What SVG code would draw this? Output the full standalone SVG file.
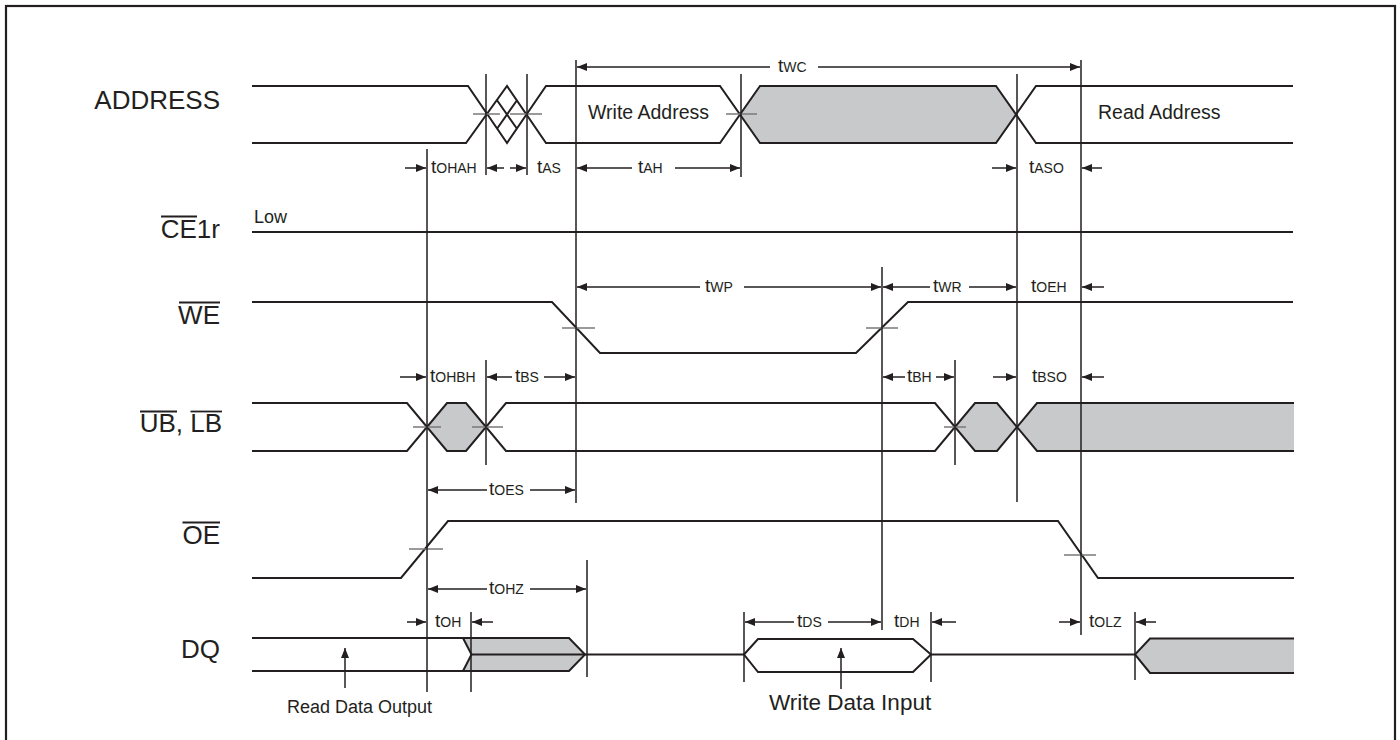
<svg xmlns="http://www.w3.org/2000/svg" width="1400" height="740" viewBox="0 0 1400 740">
<defs>
<marker id="ah" viewBox="0 0 10 8" refX="10" refY="4" markerWidth="10" markerHeight="8" markerUnits="userSpaceOnUse" orient="auto"><path d="M0,0 L10,4 L0,8 z" fill="#231f20"/></marker>
<style>
.w{fill:none;stroke:#231f20;stroke-width:2;stroke-linejoin:miter}
.g{fill:#c8c9cb;stroke:none}
.v{fill:none;stroke:#231f20;stroke-width:1.5}
.tk{fill:none;stroke:#7a7a7a;stroke-width:1.3}
.a{fill:none;stroke:#231f20;stroke-width:1.5;marker-end:url(#ah)}
.ol{stroke:#231f20;stroke-width:1.8}
text{font-family:"Liberation Sans",Arial,sans-serif;fill:#231f20}
.sig{font-size:26px;text-anchor:end}
.tl{font-size:19px}
.sub{font-size:14px}
.bus{font-size:19.5px}
</style>
</defs>
<rect x="0" y="0" width="1400" height="740" fill="#ffffff"/>
<rect x="6" y="6" width="1389" height="760" fill="none" stroke="#231f20" stroke-width="2.2"/>

<g id="labels">
<text class="sig" x="220" y="109">ADDRESS</text>
<text class="sig" x="220" y="238">CE1r</text>
<line class="ol" x1="161" y1="216.5" x2="197" y2="216.5"/>
<text class="sig" x="220" y="324">WE</text>
<line class="ol" x1="179" y1="302.5" x2="220" y2="302.5"/>
<text class="sig" x="222" y="432">UB, LB</text>
<line class="ol" x1="140" y1="411.5" x2="177" y2="411.5"/>
<line class="ol" x1="190.5" y1="411.5" x2="222" y2="411.5"/>
<text class="sig" x="220" y="544">OE</text>
<line class="ol" x1="182.5" y1="522.5" x2="220" y2="522.5"/>
<text class="sig" x="220" y="658">DQ</text>
</g>

<g id="sig-address">
<polygon class="g" points="741,114.5 760,86 996,86 1016,114.5 996,143 760,143"/>
<path class="w" d="M252,86 H468 L507,143 L546,86 H720 L760,143 H996 L1036,86 H1293"/>
<path class="w" d="M252,143 H466 L507,86 L546,143 H720 L760,86 H996 L1036,143 H1293"/>
<path class="w" d="M497,100.25 L517,128.75 M497,128.75 L517,100.25"/>
<path class="tk" d="M473,114 H500 M510,114 H542 M726,114 H757"/>
<text class="bus" x="588" y="118.5">Write Address</text>
<text class="bus" x="1098" y="118.5">Read Address</text>
</g>

<g id="sig-ce1r">
<path class="w" d="M252,232 H1293"/>
<text x="254" y="223" font-size="18">Low</text>
</g>

<g id="sig-we">
<path class="w" d="M252,302 H552 L600,353 H856 L908,302 H1293"/>
<path class="tk" d="M562,328 H595 M866,328 H898"/>
</g>

<g id="sig-ub-lb">
<polygon class="g" points="427,427 447,403 466,403 486,427 466,451 447,451"/>
<polygon class="g" points="955,427 975,403 997,403 1017,427 997,451 975,451"/>
<polygon class="g" points="1017,427 1037,403 1294,403 1294,451 1037,451"/>
<path class="w" d="M252,403 H407 L447,451 H466 L506,403 H935 L975,451 H997 L1037,403 H1294"/>
<path class="w" d="M252,451 H407 L447,403 H466 L506,451 H935 L975,403 H997 L1037,451 H1294"/>
<path class="tk" d="M413,427 H441 M472,427 H503 M944,427 H966"/>
</g>

<g id="sig-oe">
<path class="w" d="M252,578 H401 L448,521 H1058 L1098,578 H1294"/>
<path class="tk" d="M409,549 H443 M1064,555 H1096"/>
</g>

<g id="sig-dq">
<polygon class="g" points="463,638 569,638 585,654.5 569,671 463,671 471.5,654.5"/>
<polygon class="g" points="1135,654.5 1150,638.5 1294,638.5 1294,673 1150,673"/>
<path class="w" d="M252,638 H569 L585,654.5 L569,671 H252"/>
<path class="w" d="M463,638 L471.5,654.5 L463,671"/>
<path class="w" d="M471.5,654.5 H744"/>
<polygon class="w" points="744,654.5 758,639 913,639 931,654.5 913,672 758,672"/>
<path class="w" d="M931,654.5 H1135"/>
<path class="w" d="M1294,638.5 H1150 L1135,654.5 L1150,673 H1294"/>
<line class="a" x1="345" y1="688" x2="345" y2="648"/>
<text x="287" y="713" font-size="18">Read Data Output</text>
<line class="a" x1="841" y1="689" x2="841" y2="648"/>
<text x="769" y="710" font-size="22.5">Write Data Input</text>
</g>

<g id="connectors">
<path class="v" d="M427,149 V692 M486,74 V175 M486,360 V465 M527,74 V175 M576,60 V503 M587,560 V677 M471,612 V692 M741,74 V177 M744,612 V682 M882,267 V630 M931,612 V682 M955,360 V465 M1017,74 V502 M1081,60 V635 M1135,612 V680"/>
<line class="a" x1="770" y1="67" x2="577" y2="67"/>
<line class="a" x1="818" y1="67" x2="1080" y2="67"/>
<line class="a" x1="405" y1="168" x2="426" y2="168"/>
<line class="a" x1="504" y1="168" x2="487" y2="168"/>
<line class="a" x1="510" y1="168" x2="526" y2="168"/>
<line class="a" x1="632" y1="168" x2="577" y2="168"/>
<line class="a" x1="675" y1="168" x2="740" y2="168"/>
<line class="a" x1="992" y1="168" x2="1016" y2="168"/>
<line class="a" x1="1102" y1="168" x2="1082" y2="168"/>
<line class="a" x1="700" y1="287" x2="577" y2="287"/>
<line class="a" x1="744" y1="287" x2="881" y2="287"/>
<line class="a" x1="930" y1="287" x2="883" y2="287"/>
<line class="a" x1="969" y1="287" x2="1016" y2="287"/>
<line class="a" x1="1104" y1="287" x2="1082" y2="287"/>
<line class="a" x1="400" y1="377" x2="426" y2="377"/>
<line class="a" x1="512" y1="377" x2="487" y2="377"/>
<line class="a" x1="544" y1="377" x2="575" y2="377"/>
<line class="a" x1="905" y1="377" x2="883" y2="377"/>
<line class="a" x1="936" y1="377" x2="954" y2="377"/>
<line class="a" x1="993" y1="377" x2="1016" y2="377"/>
<line class="a" x1="1104" y1="377" x2="1082" y2="377"/>
<line class="a" x1="487" y1="490" x2="428" y2="490"/>
<line class="a" x1="530" y1="490" x2="575" y2="490"/>
<line class="a" x1="487" y1="589" x2="428" y2="589"/>
<line class="a" x1="530" y1="589" x2="586" y2="589"/>
<line class="a" x1="407" y1="622" x2="426" y2="622"/>
<line class="a" x1="493" y1="622" x2="472" y2="622"/>
<line class="a" x1="794" y1="622" x2="745" y2="622"/>
<line class="a" x1="828" y1="622" x2="881" y2="622"/>
<line class="a" x1="956" y1="622" x2="932" y2="622"/>
<line class="a" x1="1059" y1="622" x2="1080" y2="622"/>
<line class="a" x1="1156" y1="622" x2="1136" y2="622"/>
</g>

<g id="timing-labels">
<text class="tl" x="778" y="72">t<tspan class="sub">WC</tspan></text>
<text class="tl" x="431" y="173">t<tspan class="sub">OHAH</tspan></text>
<text class="tl" x="537" y="173">t<tspan class="sub">AS</tspan></text>
<text class="tl" x="638" y="173">t<tspan class="sub">AH</tspan></text>
<text class="tl" x="1029" y="173">t<tspan class="sub">ASO</tspan></text>
<text class="tl" x="705" y="292">t<tspan class="sub">WP</tspan></text>
<text class="tl" x="933" y="292">t<tspan class="sub">WR</tspan></text>
<text class="tl" x="1031" y="292">t<tspan class="sub">OEH</tspan></text>
<text class="tl" x="430" y="382">t<tspan class="sub">OHBH</tspan></text>
<text class="tl" x="515" y="382">t<tspan class="sub">BS</tspan></text>
<text class="tl" x="907" y="382">t<tspan class="sub">BH</tspan></text>
<text class="tl" x="1032" y="382">t<tspan class="sub">BSO</tspan></text>
<text class="tl" x="489" y="495">t<tspan class="sub">OES</tspan></text>
<text class="tl" x="489" y="594">t<tspan class="sub">OHZ</tspan></text>
<text class="tl" x="435" y="627">t<tspan class="sub">OH</tspan></text>
<text class="tl" x="797" y="627">t<tspan class="sub">DS</tspan></text>
<text class="tl" x="894" y="627">t<tspan class="sub">DH</tspan></text>
<text class="tl" x="1089" y="627">t<tspan class="sub">OLZ</tspan></text>
</g>
</svg>
